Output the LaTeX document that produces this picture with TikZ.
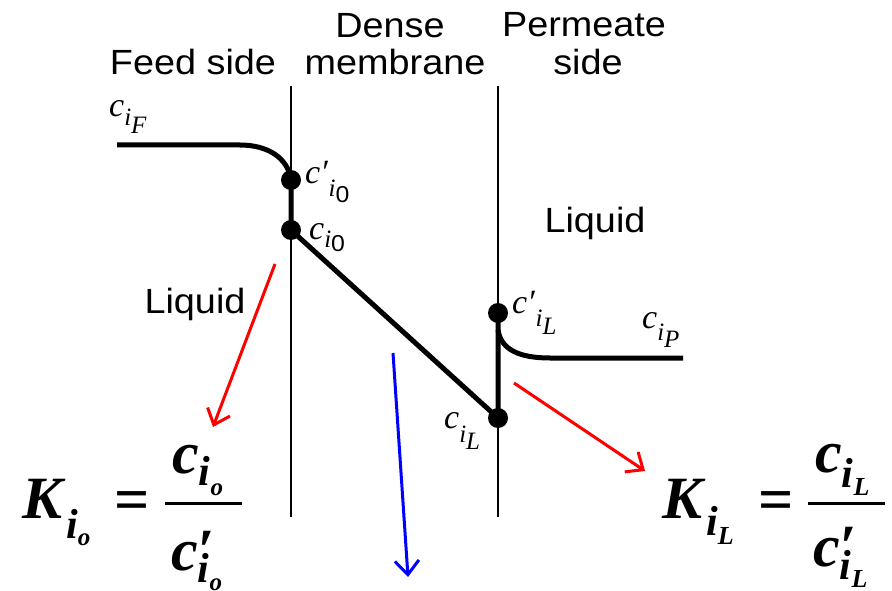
\documentclass[tikz,border=0pt]{standalone}
\usepackage{fontspec}
\setmainfont{Liberation Serif}
\newfontfamily\lsans[FakeStretch=1.08]{Liberation Sans}
\usetikzlibrary{arrows.meta}
\newcommand\fs[1]{\fontsize{#1}{#1}\selectfont}
\newcommand\cfont{\fs{34}\itshape}
\newcommand\sfont{\fs{25}\itshape}
\newcommand\zfont{\lsans\upshape\fs{23}}
\newcommand\bfi{\bfseries\itshape}
\tikzset{
  profile/.style={line width=5pt, line join=round},
  memb/.style={line width=2pt},
  dotnode/.style={circle, fill=black, minimum size=20pt, inner sep=0pt},
  lbl/.style={anchor=base, inner sep=0pt, font=\lsans\fs{35}},
  mlab/.style={anchor=base west, inner sep=0pt},
  redarr/.style={draw=red, line width=3pt, -{Straight Barb[length=14pt,width=24pt]}},
  bluearr/.style={draw=blue, line width=3pt, -{Straight Barb[length=14pt,width=24pt]}},
  fbar/.style={line width=3pt},
}
\begin{document}
\begin{tikzpicture}[x=1pt,y=-1pt]
\fill[white] (0,0) rectangle (892,591);
\useasboundingbox (0,0) rectangle (892,591);
% membranes
\coordinate (m1t) at (291,86); \coordinate (m1b) at (291,517);
\coordinate (m2t) at (498,86); \coordinate (m2b) at (498,517);
\draw[memb] (m1t) -- (m1b);
\draw[memb] (m2t) -- (m2b);
% headers
\node[lbl] (feed) at (193,75) {Feed side};
\node[lbl] (dense) at (390,38) {Dense};
\node[lbl] (membr) at (395,75) {membrane};
\node[lbl] (perm) at (584,37) {Permeate};
\node[lbl] (pside) at (588,75) {side};
\node[lbl] (liqL) at (195,313) {Liquid};
\node[lbl] (liqR) at (595,233) {Liquid};
% profile
\coordinate (fs) at (117,145);
\coordinate (fk) at (240,145);
\node[dotnode] (d1) at (291,180) {};
\node[dotnode] (d2) at (291,230) {};
\node[dotnode] (d3) at (498,418) {};
\node[dotnode] (d4) at (498,313) {};
\coordinate (pc) at (498,330);
\coordinate (pk) at (550,358);
\coordinate (pe) at (683,358);
\draw[profile] (fs) -- (fk) .. controls (268,145) and (288,158) .. (d1.center)
  -- (d2.center) -- (d3.center) -- (d4.center);
\draw[profile] (pc) .. controls (501,350) and (520,358) .. (pk) -- (pe);
% concentration labels
\node[mlab] (lcF) at (109,117) {\cfont c\raisebox{-9pt}{\sfont i\raisebox{-8pt}{F}}};
\node[mlab] (lc0p) at (305,184) {\cfont c′\raisebox{-13pt}{\sfont\kern1pt i}\raisebox{-18pt}{\zfont 0}};
\node[mlab] (lc0) at (309,240) {\cfont c\raisebox{-7pt}{\sfont i}\raisebox{-11pt}{\zfont 0}};
\node[mlab] (lcLp) at (512,313) {\cfont c′\raisebox{-13pt}{\sfont\kern1pt i\raisebox{-8pt}{L}}};
\node[mlab] (lcP) at (642,328) {\cfont c\raisebox{-12pt}{\sfont i\raisebox{-7pt}{P}}};
\node[mlab] (lcL) at (444,428) {\cfont c\raisebox{-14pt}{\sfont i\raisebox{-7pt}{L}}};
% arrows
\coordinate (r1s) at (275,264); \coordinate (r1e) at (213,427);
\coordinate (r2s) at (514,383); \coordinate (r2e) at (645,471);
\coordinate (b1s) at (393,353); \coordinate (b1e) at (408,577);
\draw[redarr] (r1s) -- (r1e);
\draw[redarr] (r2s) -- (r2e);
\draw[bluearr] (b1s) -- (b1e);
% left formula
\node[mlab] (KL) at (22,518) {\bfi\fs{60}K\kern4pt\raisebox{-20pt}{\fs{42}i\raisebox{-7pt}{\fs{25}o}}};
\node[inner sep=0pt, font=\bfseries\fs{62}] (eqL) at (132,506) {=};
\coordinate (bL1) at (165,503); \coordinate (bL2) at (242,503);
\draw[fbar] (bL1) -- (bL2);
\node[mlab] (numL) at (172,473) {\bfi\fs{60}c\raisebox{-12pt}{\fs{42}i\raisebox{-10pt}{\fs{25}o}}};
\node[mlab] (denL) at (171,570) {\bfi\fs{60}c\rlap{′}\raisebox{-12pt}{\fs{42}i\raisebox{-8pt}{\fs{25}o}}};
% right formula
\node[mlab] (KR) at (662,518) {\bfi\fs{60}K\kern4pt\raisebox{-17pt}{\fs{42}i\raisebox{-9pt}{\fs{26}L}}};
\node[inner sep=0pt, font=\bfseries\fs{62}] (eqR) at (776,506) {=};
\coordinate (bR1) at (808,503); \coordinate (bR2) at (885,503);
\draw[fbar] (bR1) -- (bR2);
\node[mlab] (numR) at (815,472) {\bfi\fs{60}c\raisebox{-15pt}{\fs{42}i\raisebox{-8pt}{\fs{26}L}}};
\node[mlab] (denR) at (813,566) {\bfi\fs{60}c\rlap{′}\raisebox{-13pt}{\fs{42}i\raisebox{-8pt}{\fs{26}L}}};
\end{tikzpicture}
\end{document}
